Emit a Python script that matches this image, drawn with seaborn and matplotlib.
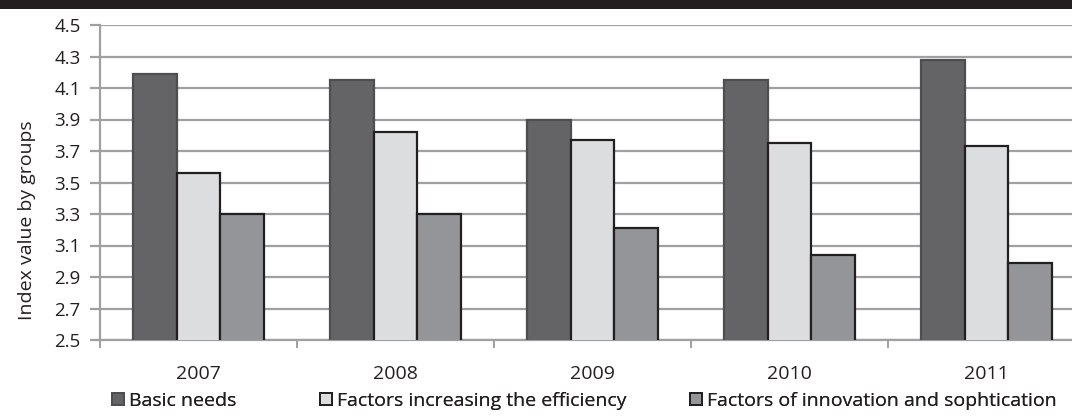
import matplotlib
matplotlib.use("Agg")
import matplotlib.pyplot as plt
from matplotlib.patches import Patch, Rectangle
import seaborn as sns
import pandas as pd
import numpy as np

# Index values per year for the three pillar groups
years = ["2007", "2008", "2009", "2010", "2011"]
groups = ["Basic needs",
          "Factors increasing the efficiency",
          "Factors of innovation and sophtication"]
basic_needs = [4.19, 4.15, 3.90, 4.15, 4.28]
efficiency = [3.56, 3.82, 3.77, 3.75, 3.73]
innovation = [3.30, 3.30, 3.21, 3.04, 2.99]
y_ticks = [2.5, 2.7, 2.9, 3.1, 3.3, 3.5, 3.7, 3.9, 4.1, 4.3, 4.5]

fills = ["#646466", "#dcdddf", "#939598"]
edges = ["#4e4e50", "#231f20", "#231f20"]
grid_col = "#a0a0a2"
text_col = "#231f20"

df = pd.DataFrame({
    "year": np.repeat(years, 3),
    "group": groups * len(years),
    "value": [v for trio in zip(basic_needs, efficiency, innovation) for v in trio],
})

sns.set_theme(style="white")
plt.rcParams["font.family"] = ["Open Sans", "DejaVu Sans"]
plt.rcParams["text.color"] = text_col

fig = plt.figure(figsize=(10.72, 4.16), dpi=100)
ax = fig.add_axes([100 / 1072, 1 - 340 / 416, 985 / 1072, 315 / 416])

sns.barplot(data=df, x="year", y="value", hue="group", order=years,
            hue_order=groups, palette=fills, width=0.665, gap=0,
            saturation=1, legend=False, ax=ax, zorder=3)

# per-series outline colours
for container, ec in zip(ax.containers, edges):
    for bar in container:
        bar.set_edgecolor(ec)
        bar.set_linewidth(1.6)

ax.set_ylim(2.5, 4.5)
ax.set_xlim(-0.5, len(years) - 0.5)
ax.set_yticks(y_ticks)
ax.set_yticklabels([f"{t:.1f}" for t in y_ticks], fontsize=13.5, color=text_col)
ax.yaxis.grid(True, color=grid_col, linewidth=1.6, zorder=0)
ax.set_axisbelow(True)

# category boundaries as ticks, year labels centred between them
ax.set_xticks(np.arange(-0.5, len(years) + 0.5, 1.0))
ax.set_xticklabels([])
ax.set_xticks(np.arange(len(years)), minor=True)
ax.set_xticklabels(years, minor=True, fontsize=14, color=text_col)
ax.tick_params(axis="x", which="major", bottom=True, length=6, width=1.4,
               color=grid_col, direction="out")
ax.tick_params(axis="x", which="minor", bottom=True, length=0, pad=18)
ax.tick_params(axis="y", left=True, length=7, width=1.6, color=grid_col, pad=7)

for side in ["top", "right"]:
    ax.spines[side].set_visible(False)
for side in ["left", "bottom"]:
    ax.spines[side].set_color(grid_col)
    ax.spines[side].set_linewidth(1.6)

ax.set_xlabel("")
ax.set_ylabel("Index value by groups", fontsize=14, color=text_col)
ax.yaxis.set_label_coords(-64 / 985, (340 - 220) / 315)

# legend row: one entry per group
legend_x = [112 / 1072, 320 / 1072, 690 / 1072]
for name, fc, ec, lx in zip(groups, fills, edges, legend_x):
    handle = Patch(facecolor=fc, edgecolor=ec, linewidth=1.4, label=name)
    leg = fig.legend(handles=[handle], loc="center left",
                     bbox_to_anchor=(lx, 1 - 401 / 416), frameon=False,
                     fontsize=14, handlelength=0.62, handleheight=0.62,
                     handletextpad=0.25, borderaxespad=0, borderpad=0)
    fig.add_artist(leg)

# dark band along the top edge
fig.add_artist(Rectangle((0, 1 - 9 / 416), 1, 9 / 416, transform=fig.transFigure,
                         facecolor=text_col, edgecolor="none"))

fig.savefig("out.png", dpi=100)
